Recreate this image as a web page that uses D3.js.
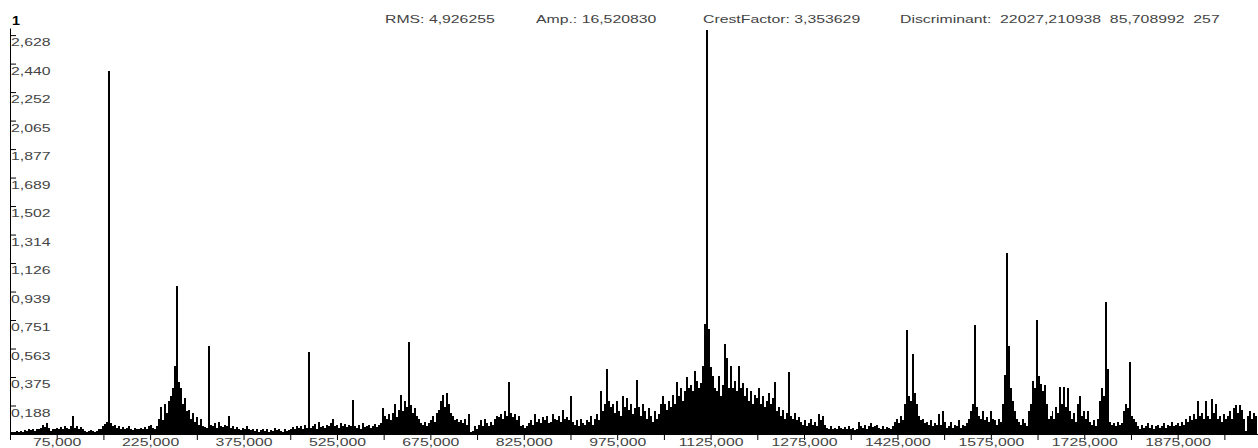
<!DOCTYPE html>
<html>
<head>
<meta charset="utf-8">
<script src="https://cdn.jsdelivr.net/npm/d3@7"></script>
<style>
  html, body { margin: 0; padding: 0; background: #fff; overflow: hidden; }
  svg { display: block; }
  text { font-family: "Liberation Sans", Arial, Helvetica, sans-serif; }
</style>
</head>
<body>
<svg id="chart" width="1258" height="448"></svg>
<script>
// Amplitude spectrum, one value per frequency bin (bin width below)
const spectrum = [
  0.01,0.015,0.01,0.02,0.015, 0.02,0.015,0.025,0.02,0.03,
  0.025,0.03,0.02,0.035,0.03, 0.04,0.06,0.045,0.07,0.04,
  0.02,0.035,0.03, 0.04,0.03,0.045,0.035,0.05,0.04,0.03,
  0.05,0.117,
  0.04,0.055,0.03,0.045,0.035,0.02,0.015,0.02,0.025,0.02,0.015,0.02,0.03,
  0.035,0.05,0.065,0.08,
  2.39,
  0.07,0.055,0.06,0.04,0.05,0.035,0.045,0.03,0.04,0.05,0.03,0.025,0.04,0.035,0.03,
  0.04,0.03,0.045,0.035,0.05,0.06,0.04,0.035,0.05,
  0.1,0.18,0.09,0.2,0.14,0.22,
  0.25,0.3,0.45,
  0.974,
  0.34,0.3,0.2,0.24,0.15,0.16,
  0.1,0.14,0.08,0.11,0.06,0.1,0.05,0.045,0.04,
  0.583,
  0.06,0.05,0.07,0.04,0.08,0.055,0.045,0.06,0.05,
  0.116,
  0.04,0.05,0.03,0.045,0.035,0.025,0.04,0.03,0.05,0.03,0.025,0.035,
  0.02,0.03,0.015,0.025,0.035,0.02,0.03,0.015,0.025,0.02,0.04,0.025,0.03,0.02,0.015,0.03,0.02,0.025,
  0.03,0.045,0.035,0.05,0.04,0.055,0.035,0.06,0.04,
  0.539,
  0.04,0.05,0.065,0.03,0.08,0.045,0.055,0.04,0.06,0.05,0.07,0.1,
  0.05,0.06,0.04,0.075,0.05,0.065,0.045,0.06,0.05,
  0.227,
  0.05,0.04,0.06,0.035,0.07,0.045,0.05,0.06,0.04,0.055,0.065,0.045,0.06,0.07,
  0.17,0.12,0.1,0.13,
  0.09,0.14,0.2,0.11,0.16,0.26,0.15,0.22,0.18,
  0.605,
  0.19,0.14,0.17,0.12,0.1,
  0.07,0.06,0.08,0.05,0.07,0.09,0.12,0.08,0.14,0.16,
  0.22,0.26,0.18,0.27,
  0.2,0.14,0.12,0.09,0.1,0.08,0.09,0.07,0.1,0.06,0.13,
  0.01,0.02,0.05,0.03,
  0.06,0.09,0.05,0.1,0.07,0.05,0.08,0.06,0.1,0.12,0.11,
  0.13,0.1,0.15,0.12,0.34,
  0.14,0.11,0.13,0.09,0.12,
  0.05,0.06,0.04,0.05,0.07,
  0.09,0.06,0.13,0.08,0.1,0.07,0.11,0.09,0.12,0.07,0.08,0.13,0.1,0.09,0.12,0.08,0.16,0.1,0.11,0.09,
  0.25,
  0.08,0.06,0.09,0.05,0.1,0.07,0.06,0.09,0.08,0.12,0.06,0.1,0.13,0.09,
  0.28,0.15,0.2,0.425,0.22,
  0.18,0.2,0.14,0.22,0.15,
  0.12,0.25,0.18,0.24,0.16,0.2,0.13,0.17,
  0.354,
  0.18,0.12,0.2,0.15,0.1,0.17,0.12,0.08,
  0.15,0.1,0.13,0.2,
  0.25,0.2,0.16,0.22,0.18,0.26,0.2,
  0.344,
  0.25,0.3,0.22,0.28,
  0.374,
  0.3,0.326,0.28,0.418,0.35,0.3,
  0.333,0.45,0.726,
  2.66,
  0.69,0.44,0.38,0.3,
  0.28,0.381,0.25,0.32,0.59,0.5,0.3,0.45,
  0.3,0.35,0.28,0.45,0.3,0.333,
  0.25,0.3,0.22,0.28,0.2,0.26,0.24,0.3,0.2,0.25,0.18,0.22,0.27,0.2,0.24,
  0.345,
  0.15,0.18,0.12,0.16,0.1,0.14,
  0.407,
  0.12,0.1,0.14,0.09,0.11,
  0.08,0.06,0.09,0.05,0.07,0.1,0.06,0.08,0.05,
  0.13,0.09,0.12,0.06,
  0.04,0.03,0.05,0.035,0.04,0.03,0.05,
  0.04,0.03,0.045,0.035,0.05,0.03,0.04,0.025,0.035,
  0.08,0.05,0.04,0.06,0.035,0.05,0.07,0.045,0.05,0.06,0.04,0.035,0.05,0.03,0.045,0.04,0.035,0.05,
  0.08,0.1,0.07,0.12,0.09,0.2,
  0.682,
  0.25,0.22,
  0.524,
  0.27,0.2,
  0.12,0.09,0.1,0.07,0.08,0.06,0.09,0.05,0.07,0.06,
  0.13,0.06,0.15,0.08,
  0.04,0.05,0.08,0.04,0.06,0.05,0.09,0.04,0.06,0.05,0.07,0.1,
  0.15,0.2,0.717,
  0.18,0.12,0.1,0.15,0.09,0.11,0.08,0.15,0.1,0.09,
  0.06,0.1,0.08,0.2,
  0.39,1.19,0.578,
  0.3,0.22,0.15,
  0.1,0.08,0.06,0.1,0.07,0.05,
  0.15,0.2,0.348,0.3,
  0.754,
  0.385,0.33,0.28,0.32,0.2,0.1,
  0.12,0.15,0.1,0.18,0.14,0.31,0.2,0.31,0.18,0.3,0.15,
  0.1,0.14,0.08,0.2,0.25,0.12,0.15,0.1,0.15,0.08,
  0.06,0.09,0.05,0.1,
  0.22,0.3,0.25,
  0.868,0.425,
  0.08,0.06,0.07,0.05,0.08,0.06,0.07,
  0.15,0.2,0.17,
  0.473,
  0.12,0.1,0.08,
  0.05,0.03,0.06,0.04,0.05,0.07,0.04,0.06,0.03,0.05,0.06,0.04,
  0.05,0.07,0.04,0.06,0.05,0.08,0.05,0.06,0.07,0.05,0.08,0.06,
  0.1,0.08,0.12,0.09,0.13,0.1,0.22,0.12,0.14,0.1,
  0.22,0.12,0.1,0.23,0.14,0.2,0.1,0.12,0.08,0.13,0.1,
  0.12,0.15,0.1,0.17,0.19,0.14,0.19,0.16,0.1,
  0.02,
  0.12,0.15,0.1,0.14,0.12
];
const binWidth = 3.21;     // frequency resolution
const freqMax = 2004;      // right end of the frequency axis
const ampMax = 2.6746;     // top of the amplitude axis

// Amplitude ticks and their labels (decimal comma)
const yTickValues = [0.18770,0.37540,0.56310,0.75080,0.93850,1.12620,1.31390,
                     1.50160,1.68930,1.87700,2.06470,2.25240,2.44010,2.62780];
const yTickLabels = ["0,188","0,375","0,563","0,751","0,939","1,126","1,314",
                     "1,502","1,689","1,877","2,065","2,252","2,440","2,628"];

// Frequency ticks every 75, labels on the odd ones
const xTickValues = [0,75,150,225,300,375,450,525,600,675,750,825,900,975,1050,
                     1125,1200,1275,1350,1425,1500,1575,1650,1725,1800,1875,1950];
const xTickLabels = ["75,000","225,000","375,000","525,000","675,000","825,000","975,000",
                     "1125,000","1275,000","1425,000","1575,000","1725,000","1875,000"];

const channelLabel = "1";
const statTexts = ["RMS: 4,926255", "Amp.: 16,520830", "CrestFactor: 3,353629",
                   "Discriminant:\u00A0\u00A022027,210938\u00A0\u00A085,708992\u00A0\u00A0257"];

// ---- layout ----
const plotLeft = 10, plotRight = 1258, baseY = 434, topY = 28;
const sx = 1.58;           // wide bitmap-style lettering
const textColor = "#444";

const svg = d3.select("#chart");

const x = d3.scaleLinear().domain([0, freqMax]).range([plotLeft, plotRight]);
const y = d3.scaleLinear().domain([0, ampMax]).range([baseY, topY]);

// spectrum bars
svg.append("g")
  .attr("shape-rendering", "crispEdges")
  .selectAll("rect")
  .data(spectrum)
  .join("rect")
  .attr("x", (d, i) => x(i * binWidth))
  .attr("width", (d, i) => x((i + 1) * binWidth) - x(i * binWidth))
  .attr("y", d => y(d))
  .attr("height", d => baseY - y(d))
  .attr("fill", "#000");

// amplitude axis: ticks point into the plot, labels sit under each tick
const yAxis = d3.axisRight(y)
  .tickValues(yTickValues)
  .tickFormat((d, i) => yTickLabels[i])
  .tickSize(6)
  .tickSizeOuter(0);

const gy = svg.append("g").attr("transform", `translate(${plotLeft},0)`).call(yAxis);
gy.select(".domain").attr("stroke", "#000");
gy.selectAll(".tick line").attr("stroke", "#000");
gy.selectAll(".tick text")
  .attr("x", 0).attr("y", 0).attr("dy", null)
  .attr("transform", `translate(1,10.5) scale(${sx},1)`)
  .attr("text-anchor", "start")
  .attr("fill", textColor)
  .style("font-size", "10px")
  .style("font-family", '"Liberation Sans", Arial, sans-serif');

// frequency axis
const xAxis = d3.axisBottom(x)
  .tickValues(xTickValues)
  .tickFormat((d, i) => (i % 2 === 1 ? xTickLabels[(i - 1) / 2] : ""))
  .tickSize(6)
  .tickSizeOuter(0);

const gx = svg.append("g").attr("transform", `translate(0,${baseY})`).call(xAxis);
gx.select(".domain").attr("stroke", "#000");
gx.selectAll(".tick line").attr("stroke", "#000");
gx.selectAll(".tick text")
  .attr("x", 0).attr("y", 0).attr("dy", null)
  .attr("transform", `translate(0,12) scale(${sx},1)`)
  .attr("text-anchor", "middle")
  .attr("fill", textColor)
  .style("font-size", "10px")
  .style("font-family", '"Liberation Sans", Arial, sans-serif');

// channel number
svg.append("text")
  .attr("transform", `translate(12,24.5) scale(1.2,1)`)
  .attr("font-size", 12)
  .attr("font-weight", "bold")
  .attr("fill", "#000")
  .text(channelLabel);

// statistics line
const statX = [385, 536, 703, 900];
svg.append("g").selectAll("text")
  .data(statTexts)
  .join("text")
  .attr("transform", (d, i) => `translate(${statX[i]},22.5) scale(${sx},1)`)
  .attr("font-size", 10)
  .attr("fill", textColor)
  .text(d => d);
</script>
</body>
</html>
